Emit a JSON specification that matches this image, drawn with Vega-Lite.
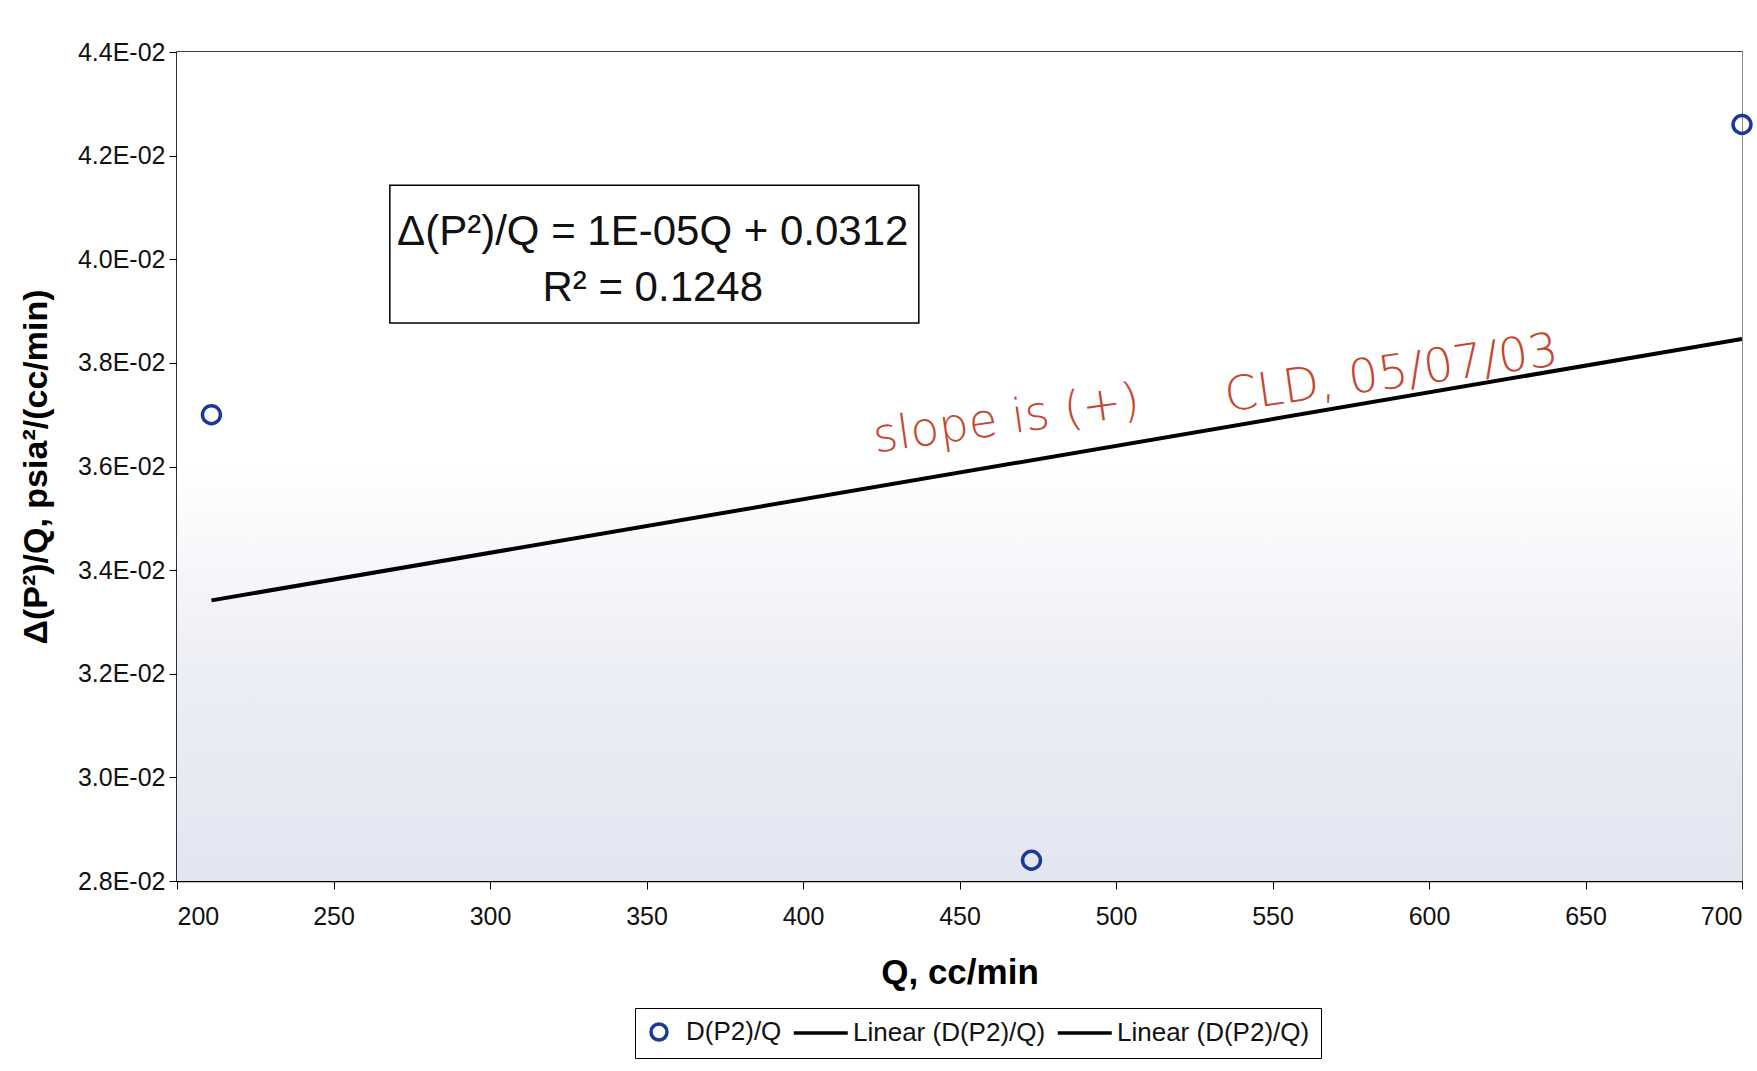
{
  "$schema": "https://vega.github.io/schema/vega-lite/v6.json",
  "autosize": {"type": "none"},
  "width": 1565,
  "height": 829,
  "padding": {"left": 177, "top": 52, "right": 15, "bottom": 190},
  "background": "white",
  "config": {
    "font": "Liberation Sans",
    "view": {"stroke": "black", "strokeWidth": 1.5},
    "axis": {
      "labelFont": "Liberation Sans",
      "titleFont": "Liberation Sans",
      "labelColor": "#111",
      "titleColor": "#000",
      "gridColor": "#8c8c8c",
      "gridWidth": 1,
      "gridOpacity": 1,
      "domainColor": "black",
      "domainWidth": 1.5,
      "tickColor": "black",
      "tickSize": 8,
      "labelFontSize": 25,
      "titleFontWeight": "bold"
    }
  },
  "datasets": {
    "measured": [
      {"Q": 211, "dp2q": 0.0370, "series": "D(P2)/Q"},
      {"Q": 473, "dp2q": 0.0284, "series": "D(P2)/Q"},
      {"Q": 700, "dp2q": 0.0426, "series": "D(P2)/Q"}
    ],
    "fitbox": [
      {"Q1": 268, "Q2": 437, "y1": 0.03877, "y2": 0.04143}
    ],
    "fitlabels": [
      {"Q": 352, "y": 0.04052, "label": "Δ(P²)/Q = 1E-05Q + 0.0312"},
      {"Q": 352, "y": 0.03944, "label": "R² = 0.1248"}
    ],
    "notes": [
      {"Q": 465, "y": 0.0369, "note": "slope is (+)"},
      {"Q": 588, "y": 0.03778, "note": "CLD, 05/07/03"}
    ]
  },
  "layer": [
    {
      "data": {"values": [{}]},
      "mark": {
        "type": "rect",
        "color": {
          "gradient": "linear", "x1": 0, "y1": 0, "x2": 0, "y2": 1,
          "stops": [
            {"offset": 0, "color": "#ffffff"},
            {"offset": 0.5, "color": "#ffffff"},
            {"offset": 0.75, "color": "#eceef5"},
            {"offset": 1, "color": "#e3e6f1"}
          ]
        }
      },
      "encoding": {}
    },
    {
      "data": {"name": "measured"},
      "transform": [{"regression": "dp2q", "on": "Q", "method": "linear"}],
      "mark": {"type": "line", "color": "black", "strokeWidth": 4, "clip": true},
      "encoding": {
        "x": {
          "field": "Q", "type": "quantitative",
          "scale": {"domain": [200, 700], "nice": false, "zero": false},
          "axis": {
            "title": "Q, cc/min",
            "titleFontSize": 35,
            "values": [200, 250, 300, 350, 400, 450, 500, 550, 600, 650, 700],
            "labelPadding": 15,
            "titlePadding": 26
          }
        },
        "y": {
          "field": "dp2q", "type": "quantitative",
          "scale": {"domain": [0.028, 0.044], "nice": false, "zero": false},
          "axis": {
            "title": "Δ(P²)/Q, psia²/(cc/min)",
            "titleFontSize": 34,
            "values": [0.028, 0.030, 0.032, 0.034, 0.036, 0.038, 0.040, 0.042, 0.044],
            "labelExpr": "replace(format(datum.value, '.1e'), 'e-', 'E-0')",
            "labelPadding": 4,
            "titlePadding": 24
          }
        }
      }
    },
    {
      "data": {"name": "measured"},
      "mark": {"type": "point", "filled": false, "clip": false, "size": 320, "strokeWidth": 3.5, "opacity": 1},
      "encoding": {
        "x": {"field": "Q", "type": "quantitative"},
        "y": {"field": "dp2q", "type": "quantitative"},
        "color": {
          "field": "series", "type": "nominal",
          "scale": {
            "domain": ["D(P2)/Q", "Linear (D(P2)/Q)", "Linear (D(P2)/Q) "],
            "range": ["#1a3a9a", "black", "black"]
          },
          "legend": {
            "title": null,
            "orient": "none",
            "direction": "horizontal",
            "legendX": 458,
            "legendY": 956,
            "labelFont": "Liberation Sans",
            "labelFontSize": 26,
            "labelColor": "#111",
            "labelLimit": 400,
            "labelOffset": 14,
            "columnPadding": 4,
            "padding": 11,
            "strokeColor": "black",
            "fillColor": "white",
            "symbolSize": 256,
            "symbolStrokeWidth": 3.5,
            "symbolOpacity": 1
          }
        },
        "shape": {
          "field": "series", "type": "nominal",
          "scale": {
            "domain": ["D(P2)/Q", "Linear (D(P2)/Q)", "Linear (D(P2)/Q) "],
            "range": ["circle", "M-4.03,0H2.72", "M-4.03,0H2.72"]
          }
        }
      }
    },
    {
      "data": {"name": "fitbox"},
      "mark": {"type": "rect", "fill": "white", "stroke": "black", "strokeWidth": 1.5},
      "encoding": {
        "x": {"field": "Q1", "type": "quantitative"},
        "x2": {"field": "Q2"},
        "y": {"field": "y1", "type": "quantitative"},
        "y2": {"field": "y2"}
      }
    },
    {
      "data": {"name": "fitlabels"},
      "mark": {"type": "text", "font": "Liberation Sans", "fontSize": 42, "color": "#111", "align": "center", "baseline": "middle"},
      "encoding": {
        "x": {"field": "Q", "type": "quantitative"},
        "y": {"field": "y", "type": "quantitative"},
        "text": {"field": "label"}
      }
    },
    {
      "data": {"name": "notes"},
      "mark": {"type": "text", "font": "DejaVu Sans", "fontWeight": 200, "fontSize": 47, "color": "#c4472f", "align": "center", "baseline": "middle", "angle": -8},
      "encoding": {
        "x": {"field": "Q", "type": "quantitative"},
        "y": {"field": "y", "type": "quantitative"},
        "text": {"field": "note"}
      }
    }
  ]
}
